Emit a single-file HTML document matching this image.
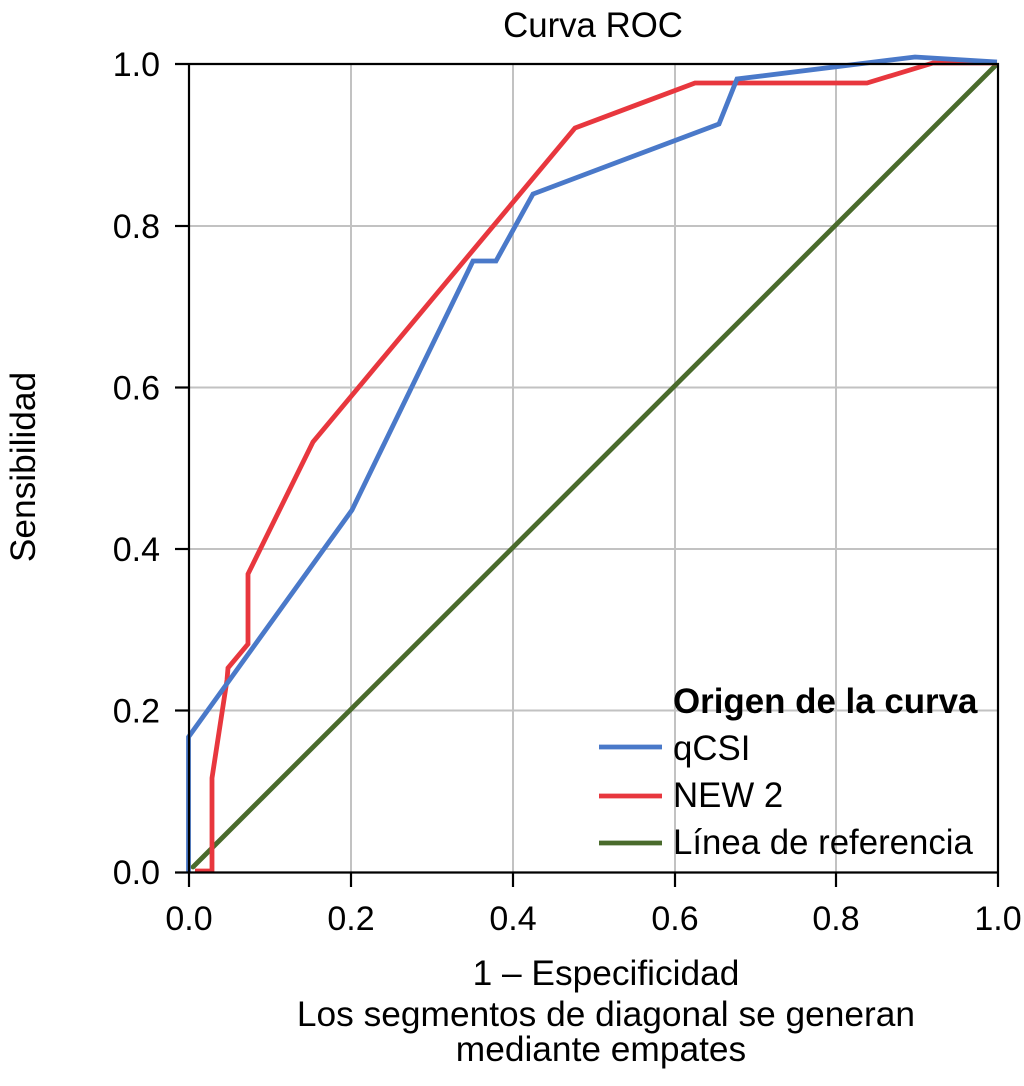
<!DOCTYPE html>
<html>
<head>
<meta charset="utf-8">
<style>
  html, body { margin: 0; padding: 0; background: #ffffff; }
  body { width: 1024px; height: 1086px; overflow: hidden; }
  svg { display: block; }
  text { font-family: "Liberation Sans", Arial, Helvetica, sans-serif; fill: #000; }
</style>
</head>
<body>
<svg width="1024" height="1086" viewBox="0 0 1024 1086" xmlns="http://www.w3.org/2000/svg">
  <rect x="0" y="0" width="1024" height="1086" fill="#ffffff"/>

  <!-- Title -->
  <text x="593" y="37" font-size="34.8" text-anchor="middle">Curva ROC</text>

  <!-- Grid lines -->
  <g stroke="#c2c2c2" stroke-width="2">
    <line x1="351" y1="64" x2="351" y2="872"/>
    <line x1="513" y1="64" x2="513" y2="872"/>
    <line x1="675" y1="64" x2="675" y2="872"/>
    <line x1="836" y1="64" x2="836" y2="872"/>
    <line x1="189" y1="710.5" x2="998" y2="710.5"/>
    <line x1="189" y1="549" x2="998" y2="549"/>
    <line x1="189" y1="387.5" x2="998" y2="387.5"/>
    <line x1="189" y1="226" x2="998" y2="226"/>
  </g>

  <!-- Reference line -->
  <polyline points="193,867 996,65" fill="none" stroke="#4a6b2c" stroke-width="4.8" stroke-linecap="round"/>

  <!-- NEW 2 (red) -->
  <polyline points="195,871 212,871 212,778 227,680 228,668 248,644 248,574 313,442 575,128 695,83 867,83 933,63 997,63"
            fill="none" stroke="#e8373e" stroke-width="4.8" stroke-linejoin="miter"/>

  <!-- qCSI (blue) -->
  <polyline points="188.5,872 188.5,737 352,510 473,261 496,261 533,194 719,124 737,79 915,57 997,62"
            fill="none" stroke="#4a79c9" stroke-width="4.8" stroke-linejoin="miter"/>

  <!-- Axes frame -->
  <g stroke="#000" stroke-width="2.2" fill="none">
    <line x1="175" y1="64" x2="999" y2="64"/>
    <line x1="189" y1="64" x2="189" y2="887"/>
    <line x1="998" y1="63" x2="998" y2="887"/>
    <line x1="175" y1="872.5" x2="999" y2="872.5"/>
    <!-- left ticks -->
    <line x1="175" y1="710.5" x2="189" y2="710.5"/>
    <line x1="175" y1="549" x2="189" y2="549"/>
    <line x1="175" y1="387.5" x2="189" y2="387.5"/>
    <line x1="175" y1="226" x2="189" y2="226"/>
    <!-- bottom ticks -->
    <line x1="351" y1="872" x2="351" y2="887"/>
    <line x1="513" y1="872" x2="513" y2="887"/>
    <line x1="675" y1="872" x2="675" y2="887"/>
    <line x1="836" y1="872" x2="836" y2="887"/>
  </g>

  <!-- Y tick labels -->
  <g font-size="34" text-anchor="end">
    <text x="160" y="76">1.0</text>
    <text x="160" y="238">0.8</text>
    <text x="160" y="399.5">0.6</text>
    <text x="160" y="561">0.4</text>
    <text x="160" y="722.5">0.2</text>
    <text x="160" y="884">0.0</text>
  </g>

  <!-- X tick labels -->
  <g font-size="34" text-anchor="middle">
    <text x="189" y="930">0.0</text>
    <text x="351" y="930">0.2</text>
    <text x="513" y="930">0.4</text>
    <text x="675" y="930">0.6</text>
    <text x="836" y="930">0.8</text>
    <text x="998" y="930">1.0</text>
  </g>

  <!-- X axis title -->
  <g font-size="35.3" text-anchor="middle">
    <text x="606" y="985">1 – Especificidad</text>
    <text x="606" y="1026">Los segmentos de diagonal se generan</text>
    <text x="601" y="1061">mediante empates</text>
  </g>

  <!-- Y axis title -->
  <text x="0" y="0" font-size="35.3" text-anchor="middle" transform="translate(35,467) rotate(-90)">Sensibilidad</text>

  <!-- Legend -->
  <text x="673" y="713" font-size="34.9" font-weight="bold">Origen de la curva</text>
  <line x1="599" y1="747" x2="662" y2="747" stroke="#4a79c9" stroke-width="4.8"/>
  <text x="673" y="760" font-size="34.8">qCSI</text>
  <line x1="599" y1="796" x2="662" y2="796" stroke="#e8373e" stroke-width="4.8"/>
  <text x="673" y="807" font-size="34.8">NEW 2</text>
  <line x1="599" y1="843" x2="662" y2="843" stroke="#4a6b2c" stroke-width="4.8"/>
  <text x="673" y="854" font-size="34.8">Línea de referencia</text>
</svg>
</body>
</html>
